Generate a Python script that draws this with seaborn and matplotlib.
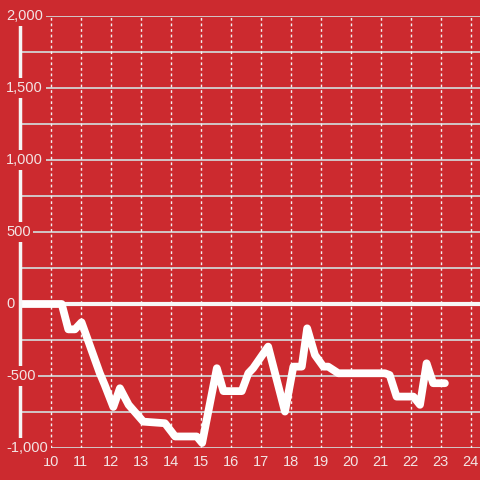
import pandas as pd
import matplotlib
matplotlib.use("Agg")
import matplotlib.pyplot as plt
import matplotlib.transforms as mtransforms
import seaborn as sns

# values
hours = [9.0, 10.37, 10.59, 10.81, 11.03, 11.64, 11.8, 12.09, 12.31, 12.6,
         13.09, 13.81, 14.15, 14.87, 15.05, 15.54, 15.76, 16.37, 16.59, 16.75,
         17.25, 17.81, 18.09, 18.37, 18.55, 18.81, 19.09, 19.25, 19.59, 21.14,
         21.3, 21.53, 22.09, 22.31, 22.53, 22.75, 23.14]
values = [0, 0, -176, -176, -127, -481, -560, -715, -585, -700,
          -817, -828, -920, -920, -965, -446, -605, -605, -481, -446,
          -296, -747, -435, -435, -169, -354, -435, -435, -481, -481,
          -493, -643, -643, -700, -412, -550, -550]
x_ticks = list(range(10, 25))
y_ticks = [-1000, -500, 0, 500, 1000, 1500, 2000]
y_labels = ["-1,000", "-500", "0", "500", "1,000", "1,500", "2,000"]

bg = "#cc2a2f"
text_col = "#f3e4e4"

df = pd.DataFrame({"hour": hours, "value": values})

sns.set_style("white", {"axes.facecolor": bg, "figure.facecolor": bg})
plt.rcParams["font.family"] = ["Liberation Sans", "DejaVu Sans"]

fig = plt.figure(figsize=(4.8, 4.8), dpi=100)
ax = fig.add_axes([20 / 480, 32 / 480, 460 / 480, 432 / 480])

ax.set_xlim(8.98, 24.31)
ax.set_ylim(-1000, 2000)

# grid: solid horizontal every 250, dotted vertical every hour
for yv in range(-1000, 2001, 250):
    ax.axhline(yv, color="#d2d2d2", lw=1.3, zorder=1)
for xv in x_ticks:
    ax.axvline(xv, color="#f2f2f2", lw=1, ls=(0, (2, 2)), zorder=1)

ax.axhline(0, color="#f7f7f7", lw=3, zorder=2)

sns.lineplot(data=df, x="hour", y="value", ax=ax, color="white",
             linewidth=5.6, zorder=3)

for s in ["top", "right", "bottom"]:
    ax.spines[s].set_visible(False)
ax.spines["left"].set_color("#f5f5f5")
ax.spines["left"].set_linewidth(2.5)
ax.spines["left"].set_zorder(4)

ax.set_xticks(x_ticks)
ax.set_xticklabels([str(t) for t in x_ticks])
ax.tick_params(axis="x", length=0, pad=5, labelsize=10.5, labelcolor=text_col)
ax.set_yticks([])
ax.set_xlabel("")
ax.set_ylabel("")

# y labels sit on top of the axis line with a background box
trans = mtransforms.blended_transform_factory(fig.transFigure, ax.transData)
for yv, lab in zip(y_ticks, y_labels):
    ax.text(6 / 480, yv, lab, transform=trans, ha="left", va="center",
            fontsize=10.5, color=text_col, zorder=6, clip_on=False,
            bbox=dict(facecolor=bg, edgecolor="none", pad=2))

fig.savefig("out.png", dpi=100, facecolor=bg)
